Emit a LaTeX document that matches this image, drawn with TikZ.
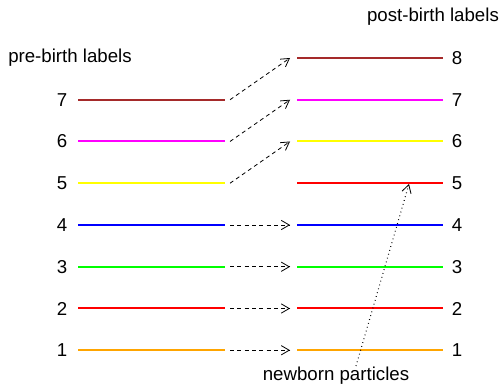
\documentclass[tikz,border=0pt]{standalone}
\usepackage{fontspec}
\setmainfont{Liberation Sans}
\usetikzlibrary{arrows.meta}
\definecolor{rbrown}{HTML}{A52A2A}
\definecolor{rorange}{HTML}{FFA500}
\definecolor{rgreen}{HTML}{00FF00}
\definecolor{rmagenta}{HTML}{FF00FF}
\definecolor{ryellow}{HTML}{FFFF00}
\definecolor{rred}{HTML}{FF0000}
\definecolor{rblue}{HTML}{0000FF}
\begin{document}
\begin{tikzpicture}[x=0.75pt,y=-0.75pt,
  every node/.style={font=\fontsize{14}{16}\selectfont, inner sep=0pt},
  level/.style={line width=1.5pt},
  moveto/.style={dash pattern=on 3pt off 2.5pt, line width=0.6pt, -{Straight Barb[length=6pt,width=7pt,line width=0.6pt]}},
  birth/.style={dash pattern=on 0.6pt off 2.4pt, line width=0.8pt, -{Straight Barb[length=6pt,width=7pt,line width=0.6pt]}}]
\useasboundingbox (0,0) rectangle (503,384);
% pre-birth levels
\foreach \i/\c in {1/rorange,2/rred,3/rgreen,4/rblue,5/ryellow,6/rmagenta,7/rbrown}{
  \coordinate (pa\i) at (78,{392-41.75*\i});
  \coordinate (pb\i) at (225,{392-41.75*\i});
  \draw[level,\c] (pa\i) -- (pb\i);
  \node[anchor=center] (pn\i) at (62,{392-41.75*\i}) {\i};
}
% post-birth levels
\foreach \i/\c in {1/rorange,2/rred,3/rgreen,4/rblue,5/rred,6/ryellow,7/rmagenta,8/rbrown}{
  \coordinate (qa\i) at (297,{392-41.75*\i});
  \coordinate (qb\i) at (443,{392-41.75*\i});
  \draw[level,\c] (qa\i) -- (qb\i);
  \node[anchor=center] (qn\i) at (457,{392-41.75*\i}) {\i};
}
% relabel arrows
\foreach \i in {1,2,3,4}{
  \draw[moveto] ([xshift=5*0.75pt]pb\i) -- ([xshift=-7*0.75pt]qa\i);
}
\foreach \i/\j in {5/6,6/7,7/8}{
  \draw[moveto] ([xshift=5*0.75pt]pb\i) -- ([xshift=-7*0.75pt]qa\j);
}
% titles
\node (pre) at (70,58) {pre-birth labels};
\node (post) at (433,17) {post-birth labels};
\node (nb) at (336,376) {newborn particles};
\coordinate (nbtop) at (356,366);
\coordinate (newbirth) at (409,184);
\draw[birth] (nbtop) -- (newbirth);
\end{tikzpicture}
\end{document}
